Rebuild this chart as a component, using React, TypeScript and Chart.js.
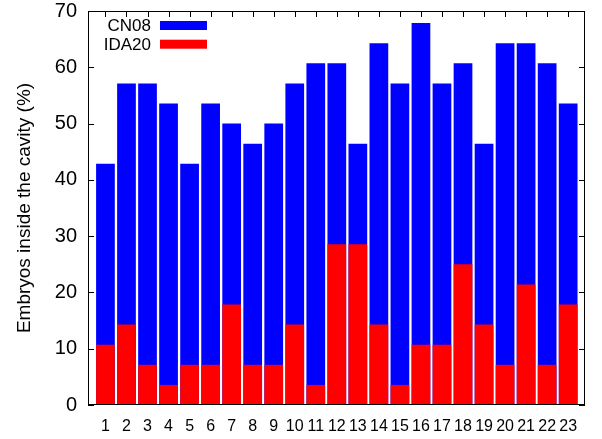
import React, { useEffect, useRef } from "react";
import { Chart, registerables } from "chart.js";

Chart.register(...registerables);

const categories = ["1","2","3","4","5","6","7","8","9","10","11","12","13","14","15","16","17","18","19","20","21","22","23"];
const cn08 = [42.86,57.14,57.14,53.57,42.86,53.57,50,46.43,50,57.14,60.71,60.71,46.43,64.29,57.14,67.86,57.14,60.71,46.43,64.29,64.29,60.71,53.57];
const ida20 = [10.71,14.29,7.14,3.57,7.14,7.14,17.86,7.14,7.14,14.29,3.57,28.57,28.57,14.29,3.57,10.71,10.71,25,14.29,7.14,21.43,7.14,17.86];
const yTicks = [0,10,20,30,40,50,60,70];
const seriesNames = ["CN08", "IDA20"];
const yTitle = "Embryos inside the cavity (%)";

const FONT = "'Liberation Sans', Arial, Helvetica, sans-serif";

const framePlugin = {
  id: "gnuFrame",
  beforeDatasetsDraw(chart: any) {
    const { ctx, chartArea: a, scales } = chart;
    ctx.save();
    ctx.strokeStyle = "#000";
    ctx.lineWidth = 1;
    ctx.beginPath();
    const tl = 6;
    for (const v of yTicks) {
      const y = Math.round(scales.y.getPixelForValue(v)) + 0.5;
      ctx.moveTo(a.left, y); ctx.lineTo(a.left + tl, y);
      ctx.moveTo(a.right, y); ctx.lineTo(a.right - tl, y);
    }
    categories.forEach((_, i) => {
      const x = Math.round(scales.x.getPixelForValue(i + 1)) + 0.5;
      ctx.moveTo(x, a.top); ctx.lineTo(x, a.top + tl);
      ctx.moveTo(x, a.bottom); ctx.lineTo(x, a.bottom - tl);
    });
    ctx.stroke();
    ctx.restore();
  },
  afterDatasetsDraw(chart: any) {
    const { ctx, chartArea: a } = chart;
    ctx.save();
    ctx.strokeStyle = "#000";
    ctx.lineWidth = 1;
    ctx.strokeRect(Math.round(a.left) + 0.5, Math.round(a.top) + 0.5, Math.round(a.right - a.left) - 1, Math.round(a.bottom - a.top) - 1);
    // key (gnuplot style: text then swatch)
    ctx.font = `17px ${FONT}`;
    ctx.textAlign = "right";
    ctx.textBaseline = "middle";
    ctx.fillStyle = "#000";
    chart.data.datasets.forEach((ds: any, i: number) => {
      const yc = a.top + 14.5 + i * 18.7;
      ctx.fillText(ds.label, 151, yc + 1);
      ctx.fillStyle = ds.backgroundColor;
      ctx.fillRect(160, yc - 4.5, 47, 9);
      ctx.fillStyle = "#000";
    });
    ctx.restore();
  },
};

export default function App() {
  const ref = useRef<HTMLCanvasElement | null>(null);
  useEffect(() => {
    if (!ref.current) return;
    const chart = new Chart(ref.current, {
      type: "bar",
      data: {
        datasets: [
          {
            label: seriesNames[0],
            data: cn08.map((v, i) => ({ x: i + 1, y: v })),
            backgroundColor: "#0000ff",
            borderWidth: 0,
            grouped: false,
            order: 2,
            barPercentage: 0.89,
            categoryPercentage: 1,
          } as any,
          {
            label: seriesNames[1],
            data: ida20.map((v, i) => ({ x: i + 1, y: v })),
            backgroundColor: "#ff0000",
            borderWidth: 0,
            grouped: false,
            order: 1,
            barPercentage: 0.89,
            categoryPercentage: 1,
          } as any,
        ],
      },
      options: {
        responsive: false,
        animation: false,
        layout: { padding: { top: 11, right: 17, left: 0, bottom: 0 } },
        plugins: { legend: { display: false }, tooltip: { enabled: false } },
        scales: {
          x: {
            type: "linear",
            offset: false,
            min: 0.17,
            max: 23.8,
            grid: { display: false, drawTicks: false },
            border: { display: false },
            afterBuildTicks: (s: any) => { s.ticks = categories.map((_, i) => ({ value: i + 1 })); },
            afterFit: (s: any) => { s.height = 34; s.paddingLeft = 0; s.paddingRight = 0; },
            ticks: {
              autoSkip: false,
              maxRotation: 0,
              padding: 12,
              color: "#000",
              font: { family: FONT, size: 16 },
              callback: (v: any) => categories[Math.round(v) - 1] ?? "",
            },
          },
          y: {
            type: "linear",
            min: 0,
            max: 70,
            grid: { display: false, drawTicks: false },
            border: { display: false },
            afterBuildTicks: (s: any) => { s.ticks = yTicks.map((v) => ({ value: v })); },
            afterFit: (s: any) => { s.width = 88; s.paddingTop = 0; s.paddingBottom = 0; },
            ticks: {
              padding: 11,
              color: "#000",
              font: { family: FONT, size: 20 },
            },
            title: {
              display: true,
              text: yTitle,
              color: "#000",
              font: { family: FONT, size: 19 },
              padding: { top: 13, bottom: 0 },
            },
          },
        },
      } as any,
      plugins: [framePlugin],
    });
    return () => chart.destroy();
  }, []);
  return (
    <div style={{ position: "absolute", left: 0, top: 0, width: 602, height: 439, background: "#fff" }}>
      <canvas ref={ref} width={602} height={439} style={{ display: "block" }} />
    </div>
  );
}
